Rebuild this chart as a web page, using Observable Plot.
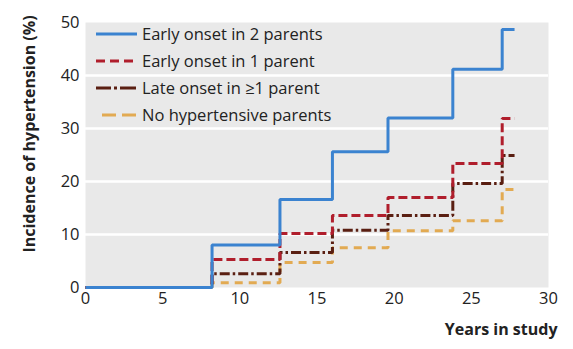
<!DOCTYPE html>
<html><head><meta charset="utf-8">
<script src="https://cdn.jsdelivr.net/npm/d3@7"></script>
<script src="https://cdn.jsdelivr.net/npm/@observablehq/plot@0.6"></script>
<style>
body{margin:0;background:#fff;font-family:"Open Sans",sans-serif}
#wrap{position:relative;width:573px;height:349px}
#legend{position:absolute;left:96px;top:20px;font-size:16.5px;color:#222;font-family:"Open Sans",sans-serif}
.row{display:flex;align-items:center;height:27px;white-space:nowrap}
.row svg{margin-right:5px;display:block}
</style></head><body><div id="wrap"><div id="chart"></div><div id="legend"></div></div>
<script>
const years = [0, 8.2, 12.6, 16.0, 19.6, 23.8, 27.0, 27.8];
const seriesNames = ["Early onset in 2 parents", "Early onset in 1 parent", "Late onset in \u22651 parent", "No hypertensive parents"];
const early2 = [0, 8.0, 16.6, 25.6, 32.0, 41.2, 48.7, 48.7];
const early1 = [0, 5.3, 10.2, 13.6, 17.0, 23.4, 31.9, 31.9];
const late1 = [0, 2.6, 6.6, 10.8, 13.6, 19.6, 24.9, 24.9];
const none = [0, 0.9, 4.7, 7.5, 10.7, 12.6, 18.5, 18.5];
const xTicks = [0, 5, 10, 15, 20, 25, 30];
const yTicks = [0, 10, 20, 30, 40, 50];
const gridTicks = [10, 20, 30, 40];

const colors = ["#3b83d0", "#b01e2c", "#5a1f12", "#e2aa52"];
const dashes = [null, "9,4", "10,3,2.5,3", "8,6"];
const legendDashes = [null, "9,5", "15,3,3,3,16", "14,6"];
const legendOffsets = [0, 0, 0, -6];
const values = [early2, early1, late1, none];

const series = values.map((v, i) => years.map((x, j) => ({x, y: v[j], s: seriesNames[i]})));

const lineMarks = [3, 2, 1, 0].map(i => Plot.line(series[i], {
  x: "x", y: "y", curve: "step-after",
  stroke: colors[i], strokeWidth: 3, strokeDasharray: dashes[i], strokeLinejoin: "miter", strokeLinecap: "butt"
}));

const chart = Plot.plot({
  width: 573, height: 349,
  marginLeft: 85, marginRight: 25, marginTop: 22, marginBottom: 62,
  style: {fontFamily: "'Open Sans', sans-serif", fontSize: "16.5px", color: "#222", background: "#fff"},
  x: {domain: [0, 30]},
  y: {domain: [0, 50]},
  marks: [
    Plot.frame({fill: "#e9e9e9", stroke: null}),
    Plot.ruleY(gridTicks, {stroke: "#fff", strokeWidth: 2.5}),
    Plot.axisX({ticks: xTicks, tickSize: 0, tickPadding: 5, label: null}),
    Plot.axisY({ticks: yTicks, tickSize: 0, tickPadding: 6, label: null}),
    ...lineMarks,
    Plot.text(["Years in study"], {frameAnchor: "bottom-right", dx: 9, dy: 47, fontWeight: "bold", fontSize: 16, textAnchor: "end"}),
    Plot.text(["Incidence of hypertension (%)"], {frameAnchor: "left", rotate: -90, dx: -56, dy: -21, fontWeight: "bold", fontSize: 16, textAnchor: "middle"})
  ]
});
document.getElementById("chart").appendChild(chart);

const legend = document.getElementById("legend");
seriesNames.forEach((name, i) => {
  const row = document.createElement("div");
  row.className = "row";
  const dash = legendDashes[i] ? `stroke-dasharray="${legendDashes[i]}" stroke-dashoffset="${legendOffsets[i]}"` : "";
  row.innerHTML = `<svg width="41" height="6"><line x1="0" x2="41" y1="3" y2="3" stroke="${colors[i]}" stroke-width="3" ${dash}/></svg><span>${name}</span>`;
  legend.appendChild(row);
});
</script>
</body></html>
